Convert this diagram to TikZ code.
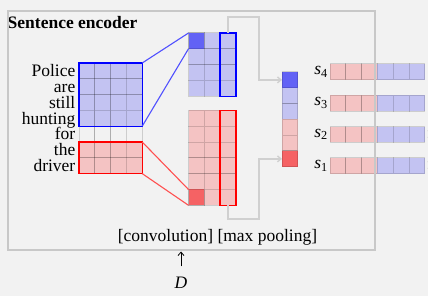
\documentclass[tikz,border=0pt]{standalone}
\usepackage{fontspec}
\setmainfont{Liberation Serif}
\usetikzlibrary{arrows.meta,positioning}
\definecolor{encbg}{RGB}{242,242,242}
\definecolor{encframe}{RGB}{200,200,200}
\definecolor{linkgray}{RGB}{208,208,208}
\definecolor{lblue}{RGB}{195,195,242}
\definecolor{lred}{RGB}{244,195,195}
\definecolor{dblue}{RGB}{98,98,245}
\definecolor{dred}{RGB}{245,98,100}
\definecolor{pblue}{RGB}{80,80,255}
\definecolor{pred}{RGB}{255,80,80}
\def\cellsz{15.8}

\begin{document}
\begin{tikzpicture}[x=1pt,y=-1pt,>={Straight Barb[length=3.5pt,width=6pt]},font=\fontsize{17.5pt}{21pt}\selectfont,
  cell/.style={draw=black,draw opacity=0.15,line width=1pt},
  cellnode/.style={cell,inner sep=0pt,outer sep=0pt,minimum size=15.8pt,anchor=north west},
  blk/.style={draw=#1,line width=1.3pt,inner sep=0pt,outer sep=0pt,minimum width=63.2pt,minimum height=63.2pt,anchor=north west},
  bar/.style={inner sep=0pt,outer sep=0pt,minimum width=94.8pt,minimum height=15.8pt,anchor=north west},
  link/.style={->,draw=linkgray,line width=1.4pt},
  frame/.style={draw=encframe,line width=1.3pt}]
  \useasboundingbox (0,0) rectangle (428,296);
  \fill[encbg] (0,0) rectangle (428,296);

  \node[anchor=base west,inner sep=0pt,font=\fontsize{17.5pt}{21pt}\selectfont\bfseries] (title) at (7.5,29) {Sentence encoder};

  \foreach \i/\f in {0/lblue,1/lblue,2/lblue,3/lblue,4/encbg,5/lred,6/lred}
    \foreach \j in {0,...,3}
      \draw[cell,fill=\f] ({79+\j*\cellsz},{63+\i*\cellsz}) rectangle ++(\cellsz,\cellsz);
  \node[blk=blue] (wblue) at (79,63) {};
  \node[blk=red,minimum height=31.6pt] (wred) at (79,{63+5*\cellsz}) {};
  \foreach \w [count=\k] in {Police,are,still,hunting,for,the,driver}
    \node[anchor=base east,inner sep=0pt] (w\k) at (75.5,{63+\k*\cellsz-2}) {\w};

  \foreach \i in {0,...,3}
    \foreach \j in {0,...,2}
      \draw[cell,fill=lblue] ({188.5+\j*\cellsz},{33+\i*\cellsz}) rectangle ++(\cellsz,\cellsz);
  \foreach \i in {0,...,5}
    \foreach \j in {0,...,2}
      \draw[cell,fill=lred] ({188.5+\j*\cellsz},{110.5+\i*\cellsz}) rectangle ++(\cellsz,\cellsz);
  \node[cellnode,fill=dblue] (cb) at (188.5,33) {};
  \node[cellnode,fill=dred] (cr) at (188.5,{110.5+5*\cellsz}) {};
  \node[blk=blue,minimum width=15.8pt] (bcol) at ({188.5+2*\cellsz},33) {};
  \node[blk=red,minimum width=15.8pt,minimum height=94.8pt] (rcol) at ({188.5+2*\cellsz},110.5) {};

  \draw[pblue,line width=1.1pt] (wblue.north east) -- (cb.north west) (wblue.south east) -- (cb.south west);
  \draw[pred,line width=1.1pt] (wred.north east) -- (cr.north west) (wred.south east) -- (cr.south west);

  \foreach \f [count=\k] in {lblue,lblue,lred,lred}
    \draw[cell,fill=\f] (282,{72+\k*\cellsz}) rectangle ++(\cellsz,\cellsz);
  \node[cellnode,fill=dblue] (vtop) at (282,72) {};
  \node[cellnode,fill=dred] (vbot) at (282,{72+5*\cellsz}) {};

  \coordinate (bturn) at (259,17);
  \coordinate (rturn) at (259,219);
  \draw[link] (bcol.north) |- (bturn) |- (vtop.west);
  \draw[link] (rcol.south) |- (rturn) |- (vbot.west);

  \foreach \k in {1,...,4} {
    \foreach \f [count=\j from 0] in {lred,lred,lred,lblue,lblue,lblue}
      \draw[cell,fill=\f] ({330+\j*\cellsz},{64+(4-\k)*31.3}) rectangle ++(\cellsz,\cellsz);
    \node[bar] (s\k) at (330,{64+(4-\k)*31.3}) {};
    \node[left=2pt of s\k,inner sep=0pt] (l\k) {\textit{s}\textsubscript{\k}};
  }
  \node[right=1.5pt of s2,inner sep=0pt] (c2) {:};
  \node[right=1.5pt of s1,inner sep=0pt] (c1) {:};

  \draw[frame] (8,11) rectangle (375,250);
  \node[anchor=base,inner sep=0pt] (ops) at (217.5,241.5) {[convolution] [max pooling]};

  \node[anchor=base,inner sep=0pt] (dvar) at (181,288) {\textit{D}};
  \coordinate (dtop) at (181,251.5);
  \draw[->,line width=0.8pt,shorten <=10pt] (dvar) -- (dtop);
\end{tikzpicture}
\end{document}
